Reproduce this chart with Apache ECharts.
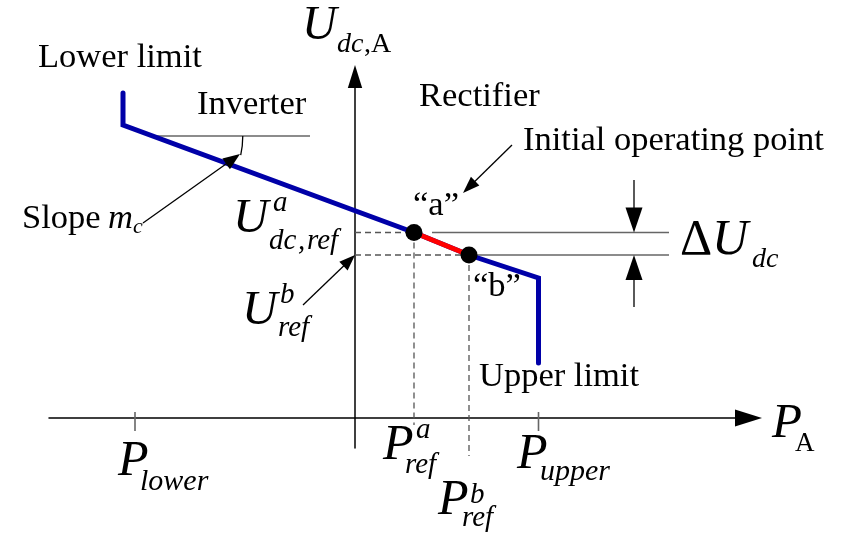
<!DOCTYPE html>
<html>
<head>
<meta charset="utf-8">
<script src="https://cdn.jsdelivr.net/npm/echarts@6/dist/echarts.min.js"></script>
<style>
  html, body { margin: 0; padding: 0; background: #fff; }
  #chart { width: 844px; height: 534px; }
</style>
</head>
<body>
<div id="chart"></div>
<script>
// Droop characteristic of converter A: DC voltage U_dc,A versus active power P_A
// (drawing units; origin where the two axes cross)

// Characteristic: lower-limit leg, droop line through the operating points, upper-limit leg
const charP = [-23.2, -23.2, 5.9, 11.4, 18.35, 18.35];
const charU = [32.5, 29.3, 18.55, 16.3, 14.0, 5.5];

// Operating points "a" (initial) and "b"
const opNames = ['a', 'b'];
const opP = [5.9, 11.4];
const opU = [18.55, 16.3];

// Power limits marked on the P axis
const limitNames = ['lower', 'upper'];
const limitP = [-22.0, 18.35];

// Horizontal reference used to show the slope angle m_c
const slopeRefU = 28.2;
const slopeRefEndP = -4.5;

// Extent of the ΔU_dc dimension lines and position of its arrows
const deltaLineEndP = 31.4;
const deltaArrowP = 27.9;
const deltaArrowReach = [23.8, 11.1];

const SERIF = "'Liberation Serif', 'Times New Roman', serif";

// ---- segment list (guides, ticks, dimension lines) ----
const segData = [];
const segKind = [];
function seg(x1, y1, x2, y2, kind) { segData.push([x1, y1, x2, y2]); segKind.push(kind); }

// dashed projections of the operating points onto both axes
seg(0, opU[0], opP[0], opU[0], 'dash');
seg(opP[0], opU[0], opP[0], -0.7, 'dash');
seg(0, opU[1], opP[1], opU[1], 'dash');
seg(opP[1], opU[1], opP[1], -3.8, 'dash');

// ΔU_dc extension lines
seg(opP[0] + 1.8, opU[0], deltaLineEndP, opU[0], 'thin');
seg(opP[1] + 0.8, opU[1], deltaLineEndP, opU[1], 'thin');

// slope reference line starting where it meets the droop line
const droopK = (charU[2] - charU[1]) / (charP[2] - charP[1]);
const slopeRefStartP = charP[1] + (slopeRefU - charU[1]) / droopK;
seg(slopeRefStartP, slopeRefU, slopeRefEndP, slopeRefU, 'thin');

// limit ticks on the P axis
limitP.forEach(function (p) { seg(p, 0.6, p, -1.3, 'tick'); });

const segStyle = {
  dash: { stroke: '#555', lineWidth: 1.3, lineDash: [6, 4] },
  thin: { stroke: '#666', lineWidth: 1.6 },
  tick: { stroke: '#666', lineWidth: 1.6 }
};

// ---- arrows: [fromP, fromU, toP, toU]; head length/width in px ----
const arrowData = [
  [15.7, 27.3, 10.8, 22.5],                               // Initial operating point
  [-21.2, 19.5, -11.5, 26.4],                             // Slope m_c
  [-5.2, 11.3, 0, opU[1]],                                // U_ref^b
  [deltaArrowP, deltaArrowReach[0], deltaArrowP, opU[0]], // ΔU_dc top
  [deltaArrowP, deltaArrowReach[1], deltaArrowP, opU[1]]  // ΔU_dc bottom
];
const arrowHead = [[17, 12], [17, 13], [16, 12], [25, 17], [25, 17]];

// ---- text helper (x = left edge, base = alphabetic baseline, px) ----
function txt(x, base, str, size, italic) {
  return {
    type: 'text', silent: true,
    x: x, y: base - 0.32 * size,
    style: {
      text: str,
      font: (italic ? 'italic ' : '') + size + 'px ' + SERIF,
      fill: '#000',
      align: 'left', verticalAlign: 'middle',
      textAlign: 'left', textVerticalAlign: 'middle'
    }
  };
}

const T = 34.5;   // body text
const S = 29;     // sub/superscripts

const texts = [
  // vertical axis title U_dc,A
  txt(302, 42, 'U', 48, true), txt(337, 54, 'dc', 28, true), txt(364, 54, ',A', 28, false),
  // horizontal axis title P_A
  txt(772, 440, 'P', 49, true), txt(795, 453, 'A', 27, false),
  // plain annotations
  txt(38, 69, 'Lower limit', T, false),
  txt(197, 116, 'Inverter', T, false),
  txt(419, 108, 'Rectifier', T, false),
  txt(523, 152, 'Initial operating point', T, false),
  txt(413, 217, '\u201ca\u201d', T, false),
  txt(473, 298, '\u201cb\u201d', T, false),
  txt(479, 388, 'Upper limit', T, false),
  txt(22, 230, 'Slope', T, false), txt(108, 230, 'm', T, true), txt(133, 234, 'c', 22, true),
  // ΔU_dc
  txt(680, 257, '\u0394', 50, false), txt(712, 257, 'U', 50, true), txt(752, 269, 'dc', 28, true),
  // U_dc,ref^a
  txt(233, 235, 'U', 49, true), txt(273, 213, 'a', S, true),
  txt(269, 251, 'dc', S, true), txt(298, 251, ',', S, true), txt(307, 251, 'ref', S, true),
  // U_ref^b
  txt(242, 327, 'U', 49, true), txt(280, 305, 'b', S, true), txt(278, 338, 'ref', S, true),
  // P_ref^a, P_ref^b
  txt(383, 462, 'P', 50, true), txt(416, 440, 'a', S, true), txt(405, 475, 'ref', S, true),
  txt(438, 517, 'P', 50, true), txt(470, 505, 'b', S, true), txt(462, 528, 'ref', S, true),
  // P_lower, P_upper
  txt(118, 478, 'P', 50, true), txt(140, 492, limitNames[0], 30, true),
  txt(517, 471, 'P', 50, true), txt(540, 482, limitNames[1], 30, true)
];

const TRI = 'path://M5,0 L10,16 L0,16 Z';

const option = {
  animation: false,
  backgroundColor: '#fff',
  grid: { left: 49, right: 95.5, top: 76.5, bottom: 86, containLabel: false },
  xAxis: {
    type: 'value', min: -30.6, max: 39.35,
    axisLine: { show: true, onZero: true, lineStyle: { color: '#000', width: 1.5 },
      symbol: ['none', TRI], symbolSize: [17, 27] },
    axisTick: { show: false }, axisLabel: { show: false }, splitLine: { show: false }
  },
  yAxis: {
    type: 'value', min: -3.0, max: 34.15,
    axisLine: { show: true, onZero: true, lineStyle: { color: '#000', width: 1.5 },
      symbol: ['none', TRI], symbolSize: [17, 23] },
    axisTick: { show: false }, axisLabel: { show: false }, splitLine: { show: false }
  },
  graphic: { elements: texts },
  series: [
    {
      name: 'guides', type: 'custom', z: 1, clip: false,
      data: segData,
      encode: { x: [0, 2], y: [1, 3] },
      renderItem: function (params, api) {
        const a = api.coord([api.value(0), api.value(1)]);
        const b = api.coord([api.value(2), api.value(3)]);
        return { type: 'line', shape: { x1: a[0], y1: a[1], x2: b[0], y2: b[1] },
          style: Object.assign({ fill: null }, segStyle[segKind[params.dataIndex]]) };
      }
    },
    {
      name: 'characteristic', type: 'line', z: 3, symbol: 'none', clip: false,
      data: charP.map(function (p, i) { return [p, charU[i]]; }),
      lineStyle: { color: '#0000a8', width: 5, cap: 'round', join: 'miter' }
    },
    {
      name: 'a-b', type: 'line', z: 4, symbol: 'none',
      data: opP.map(function (p, i) { return [p, opU[i]]; }),
      lineStyle: { color: '#ff0000', width: 5 }
    },
    {
      name: 'operating points', type: 'scatter', z: 5, symbol: 'circle', symbolSize: 17,
      data: opP.map(function (p, i) { return { name: opNames[i], value: [p, opU[i]] }; }),
      itemStyle: { color: '#000', opacity: 1 }
    },
    {
      name: 'arrows', type: 'custom', z: 6, clip: false,
      data: arrowData,
      encode: { x: [0, 2], y: [1, 3] },
      renderItem: function (params, api) {
        const p0 = api.coord([api.value(0), api.value(1)]);
        const p1 = api.coord([api.value(2), api.value(3)]);
        const L = arrowHead[params.dataIndex][0], W = arrowHead[params.dataIndex][1];
        const dx = p1[0] - p0[0], dy = p1[1] - p0[1];
        const len = Math.hypot(dx, dy), ux = dx / len, uy = dy / len;
        const bx = p1[0] - ux * L, by = p1[1] - uy * L;
        return { type: 'group', children: [
          { type: 'line', shape: { x1: p0[0], y1: p0[1], x2: bx + ux * 2, y2: by + uy * 2 },
            style: { stroke: '#000', lineWidth: 1.3, fill: null } },
          { type: 'polygon', shape: { points: [[p1[0], p1[1]],
              [bx - uy * W / 2, by + ux * W / 2], [bx + uy * W / 2, by - ux * W / 2]] },
            style: { fill: '#000' } }
        ] };
      }
    },
    {
      name: 'slope angle', type: 'custom', z: 6, clip: false,
      data: [[slopeRefStartP, slopeRefU]],
      renderItem: function (params, api) {
        const c = api.coord([api.value(0), api.value(1)]);
        return { type: 'arc', shape: { cx: c[0], cy: c[1], r: 90, startAngle: 0, endAngle: 0.215, clockwise: true },
          style: { stroke: '#000', lineWidth: 1.3, fill: null } };
      }
    }
  ]
};

const chart = echarts.init(document.getElementById('chart'), null, { renderer: 'canvas' });
chart.setOption(option);
</script>
</body>
</html>
